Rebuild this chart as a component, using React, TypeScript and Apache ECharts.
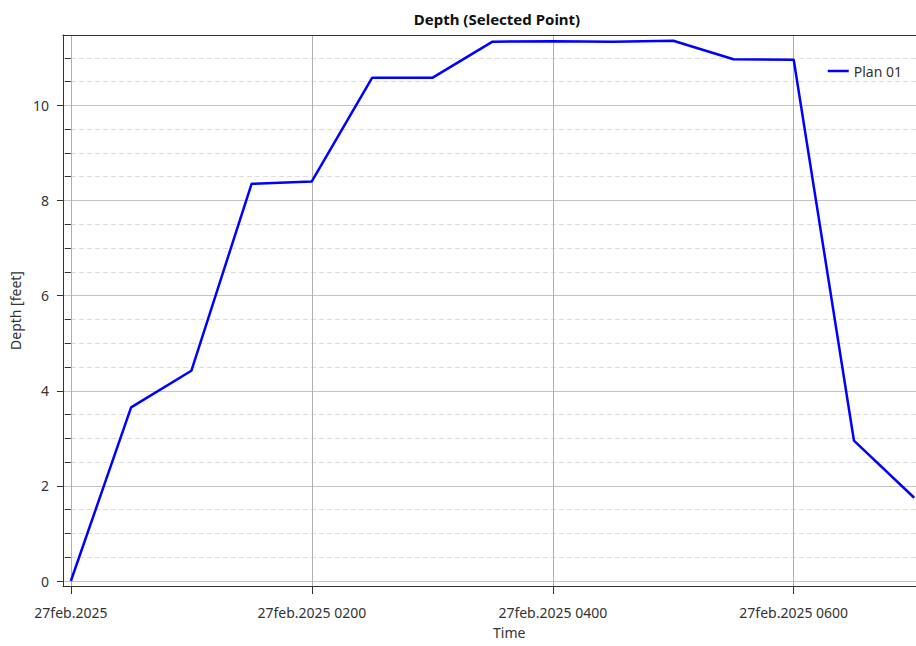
import React, { useEffect, useRef } from "react";
import * as echarts from "echarts";

// Time of day (hours after 27feb.2025 0000) and depth values
const hours = [0, 0.5, 1, 1.5, 2, 2.5, 3, 3.5, 4, 4.5, 5, 5.5, 6, 6.5, 7];
const depths = [0, 3.65, 4.42, 8.35, 8.4, 10.58, 10.58, 11.34, 11.35, 11.34, 11.36, 10.97, 10.96, 2.95, 1.75];
const xTickHours = [0, 2, 4, 6];
const xTickLabels = ["27feb.2025", "27feb.2025 0200", "27feb.2025 0400", "27feb.2025 0600"];
const yMajorTicks = [0, 2, 4, 6, 8, 10];
const yMinorTicks = [0.5, 1, 1.5, 2.5, 3, 3.5, 4.5, 5, 5.5, 6.5, 7, 7.5, 8.5, 9, 9.5, 10.5, 11];

const FONT = "Noto Sans";
const X_MIN = -0.066;
const X_MAX = 7.015;

export default function App() {
  const ref = useRef<HTMLDivElement>(null);
  useEffect(() => {
    if (!ref.current) return;
    const chart = echarts.init(ref.current, null, { renderer: "svg" });
    const data = hours.map((h, i) => [h, depths[i]]);
    chart.setOption({
      animation: false,
      backgroundColor: "#ffffff",
      textStyle: { fontFamily: FONT },
      title: {
        text: "Depth (Selected Point)",
        left: 492,
        textAlign: "center",
        top: 6,
        textStyle: { fontFamily: FONT, fontSize: 15, fontWeight: "bold", color: "#111" },
      },
      legend: {
        right: 9,
        top: 59,
        icon: "rect",
        itemWidth: 21,
        itemHeight: 2.5,
        itemGap: 6,
        textStyle: { fontFamily: FONT, fontSize: 14, color: "#333" },
        data: ["Plan 01"],
      },
      graphic: [
        {
          type: "text",
          left: 493,
          top: 625,
          style: {
            text: "Time",
            fontFamily: FONT,
            fontSize: 14,
            fill: "#333",
            textAlign: "center",
          },
        },
      ],
      grid: {
        left: 61,
        top: 35,
        right: 0,
        bottom: 60,
        show: false,
        containLabel: false,
      },
      xAxis: [
        {
          type: "value",
          min: X_MIN,
          max: X_MAX,
          position: "bottom",
          axisLine: { show: true, onZero: false, lineStyle: { color: "#333", width: 1 } },
          axisTick: { show: true, length: 8, customValues: xTickHours, lineStyle: { color: "#333" } },
          axisLabel: {
            customValues: xTickHours,
            margin: 19,
            fontFamily: FONT,
            fontSize: 14,
            color: "#333",
            formatter: (v: number) => {
              const i = xTickHours.indexOf(Math.round(v));
              return i >= 0 ? xTickLabels[i] : "";
            },
          },
          splitLine: { show: true, lineStyle: { color: "#b0b0b0", width: 1, type: "solid" } },
        },
        {
          type: "value",
          min: X_MIN,
          max: X_MAX,
          position: "top",
          axisLine: { show: true, onZero: false, lineStyle: { color: "#333", width: 1 } },
          axisTick: { show: false },
          axisLabel: { show: false },
          splitLine: { show: false },
        },
      ],
      yAxis: [
        {
          type: "value",
          min: -0.105,
          max: 11.48,
          position: "left",
          axisLine: { show: false },
          axisTick: { show: true, length: 6, customValues: yMinorTicks, lineStyle: { color: "#333" } },
          axisLabel: { show: false, customValues: yMinorTicks },
          splitLine: { show: true, lineStyle: { color: "#dcdcdc", width: 1, type: [5, 3] } },
        },
        {
          type: "value",
          min: -0.105,
          max: 11.48,
          position: "left",
          name: "Depth [feet]",
          nameLocation: "middle",
          nameGap: 36,
          nameTextStyle: { fontFamily: FONT, fontSize: 14, color: "#333" },
          axisLine: { show: true, onZero: false, lineStyle: { color: "#333", width: 1 } },
          axisTick: { show: true, length: 6, customValues: yMajorTicks, lineStyle: { color: "#333" } },
          axisLabel: {
            customValues: yMajorTicks,
            margin: 14,
            fontFamily: FONT,
            fontSize: 14,
            color: "#333",
          },
          splitLine: { show: true, lineStyle: { color: "#c4c4c4", width: 1, type: "solid" } },
        },
      ],
      series: [
        {
          name: "Plan 01",
          type: "line",
          xAxisIndex: 0,
          yAxisIndex: 1,
          data,
          symbol: "none",
          lineStyle: { color: "#0000ff", width: 2.5 },
          itemStyle: { color: "#0000ff" },
          clip: true,
        },
      ],
    });
    return () => chart.dispose();
  }, []);
  return <div ref={ref} style={{ width: 916, height: 646, position: "absolute", left: 0, top: 0 }} />;
}
